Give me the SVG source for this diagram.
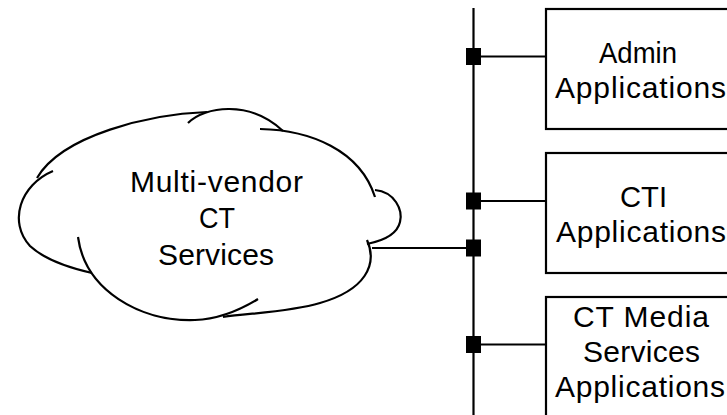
<svg xmlns="http://www.w3.org/2000/svg" width="727" height="415" viewBox="0 0 727 415">
<style>
.ln{fill:none;stroke:#000;stroke-width:2.2}
.box{fill:#fff;stroke:#000;stroke-width:2.2}
.jn{fill:#000}
text{font-family:"Liberation Sans",Arial,sans-serif;font-size:30px;fill:#000}
</style>
<rect width="727" height="415" fill="#fff"/>
<g id="cloud">
<path class="ln" d="M53,171 C20,185 8,222 30,246 C45,260 70,268 92,273"/>
<path class="ln" d="M37,178 C62,135 150,114 207,112"/>
<path class="ln" d="M188,123 C205,106 250,100 283,131"/>
<path class="ln" d="M260,129 C310,130 360,150 375,197"/>
<path class="ln" d="M375,190 C395,192 403,210 400,222 C397,235 382,241 367,244"/>
<path class="ln" d="M367,240 C378,265 365,290 320,303 C290,312 250,313 223,317"/>
<path class="ln" d="M78,237 C85,290 140,322 195,320 C220,319 240,310 258,299"/>
<text x="130" y="192" textLength="173" lengthAdjust="spacing">Multi-vendor</text>
<text x="199" y="228" textLength="36" lengthAdjust="spacingAndGlyphs">CT</text>
<text x="158" y="265" textLength="116" lengthAdjust="spacing">Services</text>
</g>
<g id="connectors">
<line class="ln" x1="473.5" y1="8" x2="473.5" y2="415"/>
<line class="ln" x1="372" y1="248" x2="473.5" y2="248"/>
<line class="ln" x1="473.5" y1="56.5" x2="546" y2="56.5"/>
<line class="ln" x1="473.5" y1="201" x2="546" y2="201"/>
<line class="ln" x1="473.5" y1="344.5" x2="546" y2="344.5"/>
<rect class="jn" x="466" y="48" width="15" height="17"/>
<rect class="jn" x="466" y="192.5" width="15" height="17"/>
<rect class="jn" x="466" y="239.5" width="15" height="17"/>
<rect class="jn" x="466" y="336" width="15" height="17"/>
</g>
<g id="admin">
<rect class="box" x="546" y="9" width="200" height="120"/>
<text x="599" y="63" textLength="78" lengthAdjust="spacingAndGlyphs">Admin</text>
<text x="555" y="98" textLength="171" lengthAdjust="spacing">Applications</text>
</g>
<g id="cti">
<rect class="box" x="546" y="153" width="200" height="120"/>
<text x="620" y="207" textLength="47" lengthAdjust="spacingAndGlyphs">CTI</text>
<text x="556" y="242" textLength="170" lengthAdjust="spacing">Applications</text>
</g>
<g id="media">
<rect class="box" x="546" y="297" width="200" height="140"/>
<text x="573" y="327" textLength="136" lengthAdjust="spacing">CT Media</text>
<text x="583" y="362" textLength="117" lengthAdjust="spacing">Services</text>
<text x="555" y="397" textLength="170" lengthAdjust="spacing">Applications</text>
</g>
</svg>
